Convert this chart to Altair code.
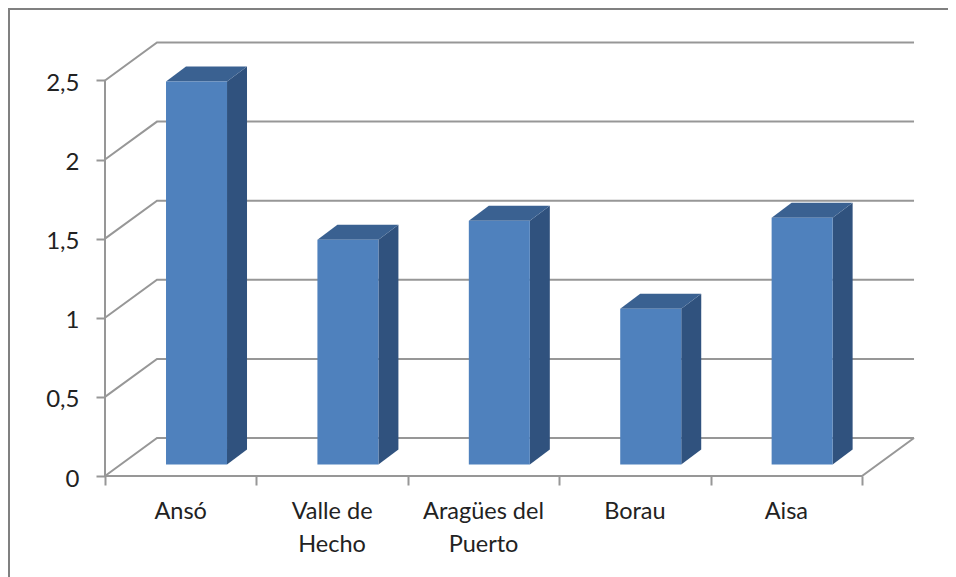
import altair as alt
import pandas as pd

categories = ["Ansó", "Valle de\nHecho", "Aragües del\nPuerto", "Borau", "Aisa"]
values = [2.42, 1.42, 1.54, 0.985, 1.56]
y_ticks = [0, 0.5, 1, 1.5, 2, 2.5]
x_ticks = [0, 1, 2, 3, 4, 5]

# oblique projection expressed in axis units
WALL_DX, WALL_DY = 0.3435, 0.24
BAR_START, BAR_W, BAR_BASE = 0.403, 0.403, 0.0726
BAR_DX, BAR_DY = 0.132, 0.095
X_MAX, Y_MAX = 5.35, 2.743

FONT = "Lato"
GREY = "#979797"

x_scale = alt.Scale(domain=[0, X_MAX], nice=False, zero=False)
y_scale = alt.Scale(domain=[0, Y_MAX], nice=False, zero=False)

line_rows = []
for t in y_ticks:
    line_rows += [
        {"id": f"s{t}", "x": 0, "y": t, "o": 0},
        {"id": f"s{t}", "x": WALL_DX, "y": t + WALL_DY, "o": 1},
        {"id": f"s{t}", "x": 5 + WALL_DX, "y": t + WALL_DY, "o": 2},
    ]
line_rows += [
    {"id": "floor", "x": 0, "y": 0, "o": 0},
    {"id": "floor", "x": 5, "y": 0, "o": 1},
    {"id": "floor", "x": 5 + WALL_DX, "y": WALL_DY, "o": 2},
    {"id": "yaxis", "x": 0, "y": 0, "o": 0},
    {"id": "yaxis", "x": 0, "y": 2.5, "o": 1},
]
lines = pd.DataFrame(line_rows)

front, side, top = [], [], []
for i, (c, v) in enumerate(zip(categories, values)):
    x0 = i + BAR_START
    x1 = x0 + BAR_W
    ytop = BAR_BASE + v
    front.append({"x": x0, "x2": x1, "y": BAR_BASE, "y2": ytop})
    side += [
        {"b": i, "x": x1, "y": ytop, "y2": BAR_BASE},
        {"b": i, "x": x1 + BAR_DX, "y": ytop + BAR_DY, "y2": BAR_BASE + BAR_DY},
    ]
    top += [
        {"b": i, "y": ytop, "x": x0, "x2": x1},
        {"b": i, "y": ytop + BAR_DY, "x": x0 + BAR_DX, "x2": x1 + BAR_DX},
    ]

x_axis = alt.Axis(
    values=x_ticks, labels=False, title=None, domain=False, grid=False,
    tickSize=9, tickWidth=2, tickColor=GREY, orient="bottom")
y_axis = alt.Axis(
    values=y_ticks, title=None, domain=False, grid=False,
    tickSize=9, tickWidth=2, tickColor=GREY, labelPadding=17, labelOffset=3,
    labelFont=FONT, labelFontSize=24, labelColor="#222222",
    labelExpr="replace(toString(datum.value), '.', ',')")
X = alt.X("x:Q", scale=x_scale, axis=x_axis)
Y = alt.Y("y:Q", scale=y_scale, axis=y_axis)

grid = alt.Chart(lines).mark_line(color=GREY, strokeWidth=2).encode(
    x=X, y=Y, detail="id:N", order="o:Q")

bar_front = alt.Chart(pd.DataFrame(front)).mark_rect(color="#4f81bd").encode(
    x=X, x2="x2:Q", y=Y, y2="y2:Q")

bar_side = alt.Chart(pd.DataFrame(side)).mark_area(color="#30527e", orient="vertical").encode(
    x=X, y=Y, y2="y2:Q", detail="b:N")

bar_top = alt.Chart(pd.DataFrame(top)).mark_area(color="#3a6191", orient="horizontal").encode(
    y=Y, x=X, x2="x2:Q", detail="b:N")

cat_df = pd.DataFrame({"c": categories, "x": [i + 0.5 for i in range(5)]})
cat_text = alt.Chart(cat_df).mark_text(
    font=FONT, fontSize=23.5, color="#222222", lineBreak="\n", lineHeight=33,
    align="center", baseline="alphabetic").encode(
    x=X, y=alt.value(477), text="c:N")

frame_h = alt.Chart(pd.DataFrame({"a": [0]})).mark_rule(color="#808080", strokeWidth=2).encode(
    x=alt.value(-97), x2=alt.value(843), y=alt.value(-33))
frame_v = alt.Chart(pd.DataFrame({"a": [0]})).mark_rule(color="#808080", strokeWidth=2).encode(
    x=alt.value(-96), y=alt.value(-34), y2=alt.value(535))

chart = alt.layer(frame_h, frame_v, grid, bar_side, bar_top, bar_front, cat_text).properties(
    width=810, height=434,
    autosize=alt.AutoSizeParams(type="none"),
    padding={"left": 97, "top": 34, "right": 33, "bottom": 101},
    background="white",
).configure_view(stroke=None)

chart.save("out.html", embed_options={"renderer": "svg", "actions": False})
